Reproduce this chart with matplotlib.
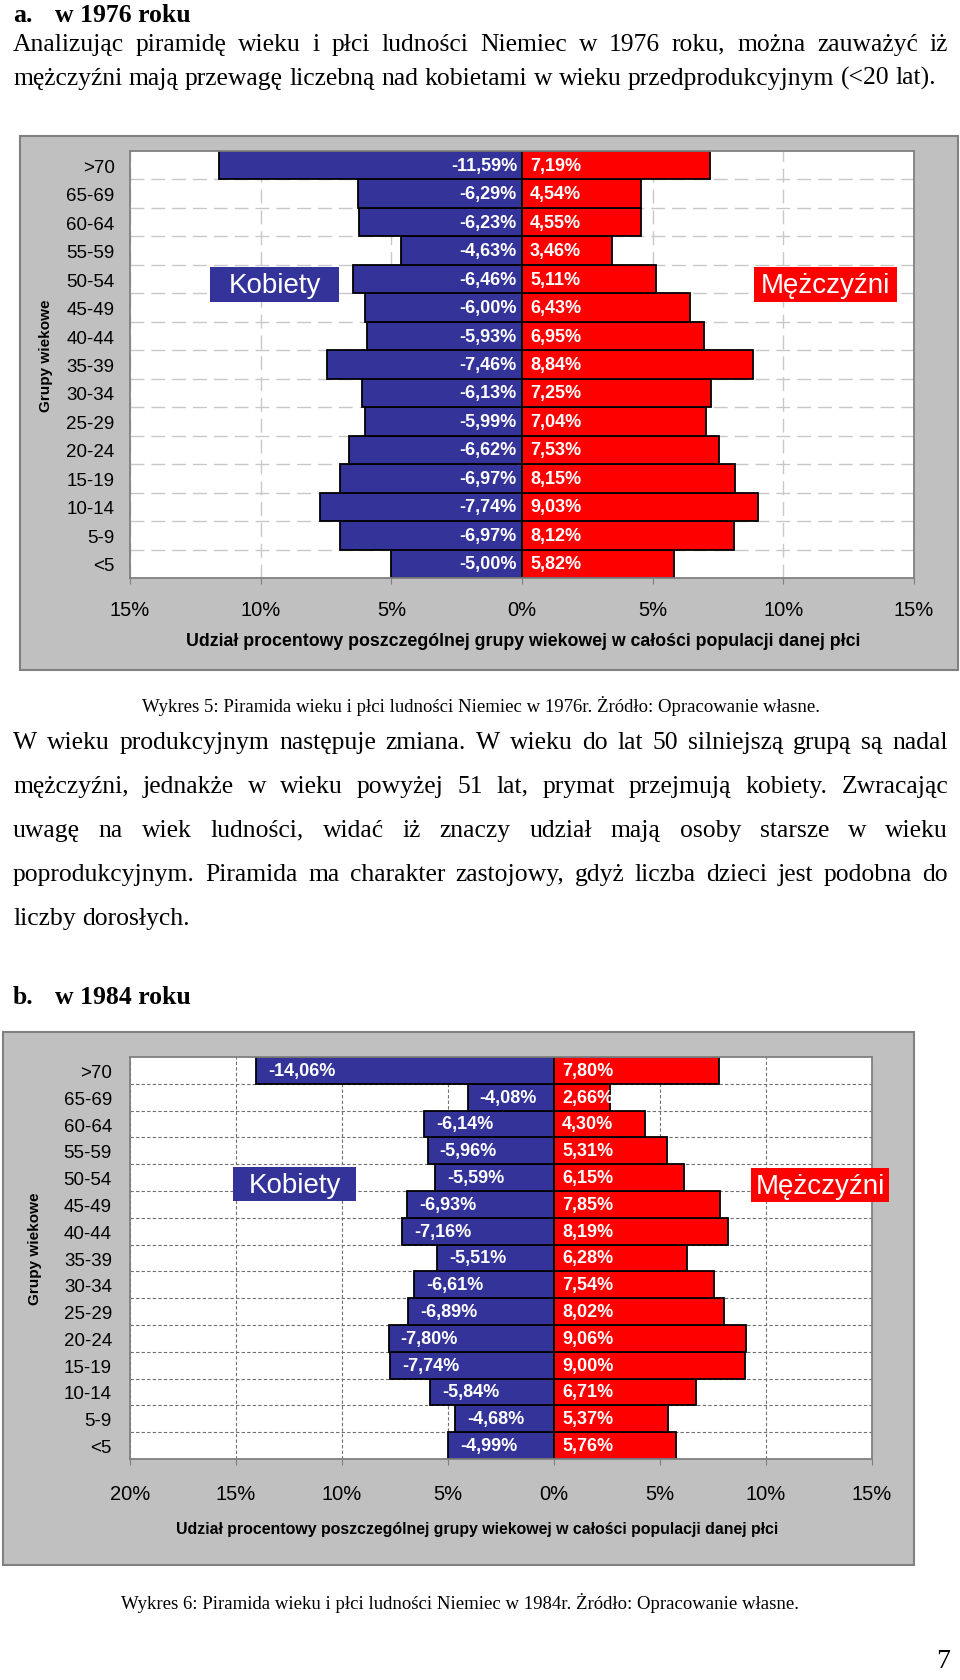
import matplotlib
matplotlib.use('Agg')
import matplotlib.pyplot as plt
from matplotlib.patches import Rectangle

W, H = 960, 1681

# grupy wiekowe, od dołu do góry
wiek = ['<5', '5-9', '10-14', '15-19', '20-24', '25-29', '30-34', '35-39',
        '40-44', '45-49', '50-54', '55-59', '60-64', '65-69', '>70']

kobiety_1976 = [5.00, 6.97, 7.74, 6.97, 6.62, 5.99, 6.13, 7.46,
                5.93, 6.00, 6.46, 4.63, 6.23, 6.29, 11.59]
mezczyzni_1976 = [5.82, 8.12, 9.03, 8.15, 7.53, 7.04, 7.25, 8.84,
                  6.95, 6.43, 5.11, 3.46, 4.55, 4.54, 7.19]

kobiety_1984 = [4.99, 4.68, 5.84, 7.74, 7.80, 6.89, 6.61, 5.51,
                7.16, 6.93, 5.59, 5.96, 6.14, 4.08, 14.06]
mezczyzni_1984 = [5.76, 5.37, 6.71, 9.00, 9.06, 8.02, 7.54, 6.28,
                  8.19, 7.85, 6.15, 5.31, 4.30, 2.66, 7.80]

xticks_1976 = [-15, -10, -5, 0, 5, 10, 15]
xticks_1984 = [-20, -15, -10, -5, 0, 5, 10, 15]

akapit1 = [
    "Analizując piramidę wieku i płci ludności Niemiec w 1976 roku, można zauważyć iż",
    "mężczyźni mają przewagę liczebną nad kobietami w wieku przedprodukcyjnym (<20 lat).",
]
akapit2 = [
    "W wieku produkcyjnym następuje zmiana. W wieku do lat 50 silniejszą grupą są nadal",
    "mężczyźni, jednakże w wieku powyżej 51 lat, prymat przejmują kobiety. Zwracając",
    "uwagę na wiek ludności, widać iż znaczy udział mają osoby starsze w wieku",
    "poprodukcyjnym. Piramida ma charakter zastojowy, gdyż liczba dzieci jest podobna do",
    "liczby dorosłych.",
]
podpis5 = "Wykres 5: Piramida wieku i płci ludności Niemiec w 1976r. Żródło: Opracowanie własne."
podpis6 = "Wykres 6: Piramida wieku i płci ludności Niemiec w 1984r. Żródło: Opracowanie własne."
xlabel = "Udział procentowy poszczególnej grupy wiekowej w całości populacji danej płci"

NIEBIESKI = '#333399'
CZERWONY = '#ff0000'
SZARY = '#c0c0c0'
SERIF = 'Liberation Serif'
SANS = 'Liberation Sans'

fig = plt.figure(figsize=(W / 100, H / 100), dpi=100)
rend = fig.canvas.get_renderer()


def fy(y):
    return 1 - y / H


def tekst(x, y, s, **kw):
    return fig.text(x / W, fy(y), s, **kw)


def szerokosc(s, size, family=SERIF, weight='normal'):
    t = fig.text(0, 0, s, fontsize=size, family=family, weight=weight)
    w = t.get_window_extent(rend).width
    t.remove()
    return w


def linia(s, y, x0, x1, size, justuj=True):
    # y to środek wiersza; słowa stawiamy na wspólnej linii bazowej
    px = size / 72 * 100
    yb = y + 0.3 * px
    slowa = s.split(' ')
    obiekty = [tekst(0, yb, w, fontsize=size, family=SERIF, va='baseline') for w in slowa]
    szer = [o.get_window_extent(rend).width for o in obiekty]
    if justuj and len(slowa) > 1:
        odstep = (x1 - x0 - sum(szer)) / (len(slowa) - 1)
    else:
        odstep = px * 0.25
    x = x0
    for o, w in zip(obiekty, szer):
        o.set_x(x / W)
        x += w + odstep


# rozmiar tekstu dobrany do szerokości wiersza
body = 10 * 927 / szerokosc(akapit1[1], 10)
cap = 10 * 678 / szerokosc(podpis5, 10)
xl1 = 10 * 673 / szerokosc(xlabel, 10, SANS, 'bold')
xl2 = 10 * 604 / szerokosc(xlabel, 10, SANS, 'bold')

# nagłówki
tekst(13, 15, "a.", fontsize=18.5, family=SERIF, weight='bold', va='center')
tekst(55, 15, "w 1976 roku", fontsize=18.5, family=SERIF, weight='bold', va='center')
tekst(13, 998, "b.", fontsize=18.5, family=SERIF, weight='bold', va='center')
tekst(55, 998, "w 1984 roku", fontsize=18.5, family=SERIF, weight='bold', va='center')

linia(akapit1[0], 43, 13, 948, body)
linia(akapit1[1], 77, 13, 948, body, justuj=False)
for i, s in enumerate(akapit2):
    linia(s, 741 + 44 * i, 13, 948, body, justuj=(i < len(akapit2) - 1))

tekst(481, 706, podpis5, fontsize=cap, family=SERIF, ha='center', va='center')
tekst(460, 1603, podpis6, fontsize=cap, family=SERIF, ha='center', va='center')
tekst(943, 1662, "7", fontsize=20, family=SERIF, ha='center', va='center')


def etykieta_pudelko(l, t, r, b, s, kolor):
    fig.add_artist(Rectangle((l / W, fy(b)), (r - l) / W, (b - t) / H,
                             transform=fig.transFigure, facecolor=kolor,
                             edgecolor='none', zorder=5))
    tekst((l + r) / 2, (t + b) / 2 + 1, s, fontsize=20, family=SANS, color='white',
          ha='center', va='center', zorder=6)


def piramida(box, panel, kob, mez, ticks, styl_siatki, kol_siatki, lw_siatki,
             wew_kob, pad_x, pad_y, ylab_x, xlab_xy, xl_size):
    l, t, r, b = box
    pl, pt, pr, pb = panel
    fig.add_artist(Rectangle((pl / W, fy(pb)), (pr - pl) / W, (pb - pt) / H,
                             transform=fig.transFigure, facecolor=SZARY,
                             edgecolor='#808080', lw=1.5, zorder=-1))
    ax = fig.add_axes([l / W, fy(b), (r - l) / W, (b - t) / H])
    ax.set_facecolor('white')
    y = list(range(len(wiek)))
    ax.barh(y, [-v for v in kob], height=1.0, color=NIEBIESKI, edgecolor='black', lw=1.3)
    ax.barh(y, mez, height=1.0, color=CZERWONY, edgecolor='black', lw=1.3)
    ax.set_xlim(ticks[0], ticks[-1])
    ax.set_ylim(-0.5, len(wiek) - 0.5)
    ax.set_xticks(ticks)
    ax.set_xticklabels([f"{abs(v)}%" for v in ticks], family=SANS, fontsize=14.5)
    ax.set_yticks(y)
    ax.set_yticklabels(wiek, family=SANS, fontsize=13.5)
    ax.set_yticks([i + 0.5 for i in y[:-1]], minor=True)
    ax.tick_params(axis='y', which='both', length=0, pad=pad_y)
    ax.tick_params(axis='x', length=4, color='#808080', pad=pad_x, direction='out')
    ax.set_axisbelow(True)
    ax.grid(True, axis='x', which='major', color=kol_siatki, linestyle=styl_siatki, lw=lw_siatki)
    ax.grid(True, axis='y', which='minor', color=kol_siatki, linestyle=styl_siatki, lw=lw_siatki)
    for sp in ax.spines.values():
        sp.set_color('#808080')
        sp.set_linewidth(1.3)
    for yi, k, m in zip(y, kob, mez):
        lk = "-" + f"{k:.2f}".replace('.', ',') + "%"
        lm = f"{m:.2f}".replace('.', ',') + "%"
        if wew_kob:
            ax.annotate(lk, (-k, yi), xytext=(12, 0), textcoords='offset pixels',
                        ha='left', va='center', color='white', fontsize=13,
                        family=SANS, weight='bold', clip_on=True)
        else:
            ax.annotate(lk, (0, yi), xytext=(-5, 0), textcoords='offset pixels',
                        ha='right', va='center', color='white', fontsize=13,
                        family=SANS, weight='bold')
        ax.annotate(lm, (0, yi), xytext=(8, 0), textcoords='offset pixels',
                    ha='left', va='center', color='white', fontsize=13,
                    family=SANS, weight='bold')
    tekst(ylab_x, (t + b) / 2 - 10, "Grupy wiekowe", rotation=90, fontsize=11,
          family=SANS, weight='bold', ha='center', va='center')
    tekst(xlab_xy[0], xlab_xy[1], xlabel, fontsize=xl_size, family=SANS, weight='bold',
          ha='center', va='center')
    return ax


piramida((130, 152, 914, 579), (20, 137, 958, 671), kobiety_1976, mezczyzni_1976,
         xticks_1976, (0, (10, 5)), '#c8c8c8', 1.0, False, 12, 11, 46, (523, 642), xl1)
etykieta_pudelko(210, 268, 339, 303, "Kobiety", NIEBIESKI)
etykieta_pudelko(754, 268, 897, 303, "Mężczyźni", CZERWONY)

piramida((130, 1058, 872, 1460), (3, 1033, 914, 1566), kobiety_1984, mezczyzni_1984,
         xticks_1984, (0, (3, 2)), '#707070', 0.8, True, 14, 13, 35, (477, 1530), xl2)
etykieta_pudelko(233, 1168, 356, 1202, "Kobiety", NIEBIESKI)
etykieta_pudelko(751, 1169, 889, 1203, "Mężczyźni", CZERWONY)

fig.savefig('out.png', dpi=100)
